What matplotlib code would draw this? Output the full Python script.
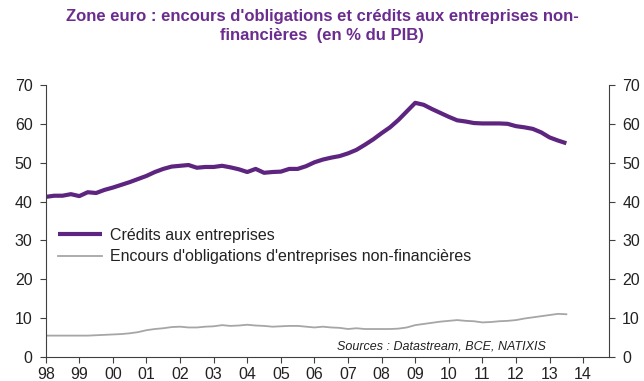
import matplotlib
matplotlib.use("Agg")
import matplotlib.pyplot as plt
import numpy as np

start_year = 1998
credits = [41.2, 41.5, 41.5, 41.9,
           41.4, 42.4, 42.2, 43.0,
           43.6, 44.3, 45.0, 45.8,
           46.6, 47.6, 48.4, 49.0,
           49.2, 49.4, 48.7, 48.9,
           48.9, 49.2, 48.8, 48.3,
           47.6, 48.4, 47.4, 47.6,
           47.7, 48.4, 48.4, 49.1,
           50.1, 50.8, 51.3, 51.7,
           52.4, 53.3, 54.6, 56.0,
           57.6, 59.1, 61.0, 63.2,
           65.4, 64.9, 63.8, 62.8,
           61.8, 60.9, 60.6, 60.2,
           60.1, 60.1, 60.1, 60.0,
           59.4, 59.1, 58.7, 57.8,
           56.5, 55.7, 55.0]
bonds = [5.5, 5.5, 5.5, 5.5,
         5.5, 5.5, 5.6, 5.7,
         5.8, 5.9, 6.1, 6.4,
         6.9, 7.2, 7.4, 7.7,
         7.8, 7.6, 7.6, 7.8,
         7.9, 8.2, 8.0, 8.1,
         8.3, 8.1, 8.0, 7.8,
         7.9, 8.0, 8.0, 7.8,
         7.6, 7.8, 7.6, 7.5,
         7.2, 7.4, 7.2, 7.2,
         7.2, 7.2, 7.3, 7.6,
         8.2, 8.5, 8.8, 9.1,
         9.3, 9.5, 9.3, 9.2,
         8.9, 9.0, 9.2, 9.3,
         9.5, 9.9, 10.2, 10.5,
         10.8, 11.1, 11.0]
year_ticks = list(range(1998, 2015))
year_labels = ["98", "99", "00", "01", "02", "03", "04", "05", "06", "07",
               "08", "09", "10", "11", "12", "13", "14"]
y_ticks = [0, 10, 20, 30, 40, 50, 60, 70]

title = "Zone euro : encours d'obligations et crédits aux entreprises non-\nfinancières  (en % du PIB)"
label_credits = "Crédits aux entreprises"
label_bonds = "Encours d'obligations d'entreprises non-financières"
source = "Sources : Datastream, BCE, NATIXIS"

plt.rcParams['font.family'] = ['Liberation Sans', 'DejaVu Sans']

x = start_year + np.arange(len(credits)) / 4.0

fig = plt.figure(figsize=(6.44, 3.81), dpi=100)
ax = fig.add_axes([0.071, 0.063, 0.8747, 0.714])

purple = "#5E2580"
grey = "#A6A6A6"
axis_col = "#404040"

ax.plot(x, credits, color=purple, lw=3.0, solid_capstyle='butt', label=label_credits)
ax.plot(x, bonds, color=grey, lw=1.3, label=label_bonds)

ax.set_xlim(1998, 2014.77)
ax.set_ylim(0, 70)
ax.set_xticks(year_ticks)
ax.set_xticklabels(year_labels)
ax.set_yticks(y_ticks)

ax.spines['top'].set_visible(False)
for s in ['left', 'right', 'bottom']:
    ax.spines[s].set_color(axis_col)
    ax.spines[s].set_linewidth(0.8)

ax.tick_params(axis='both', direction='out', length=4, width=0.8, color=axis_col,
               labelsize=11.5, labelcolor="#222222")
ax.tick_params(axis='x', pad=3.2)
ax.tick_params(axis='y', left=True, right=True, labelleft=True, labelright=True, pad=5.5)

leg = ax.legend(loc='center left', bbox_to_anchor=(0.011, 0.408), frameon=False,
                fontsize=11.5, handlelength=2.75, handletextpad=0.5, labelspacing=0.42,
                borderaxespad=0.2, borderpad=0.2)
for t in leg.get_texts():
    t.set_color("#222222")

ax.text(0.517, 0.038, source, transform=ax.transAxes, fontsize=9, style='italic',
        color="#222222", ha='left', va='center')

fig.text(0.5, 1 - 9 / 381, title, ha='center', va='top', fontsize=12, fontweight='bold',
         color="#6A2C8E", linespacing=1.32)

fig.savefig("out.png", dpi=100)
